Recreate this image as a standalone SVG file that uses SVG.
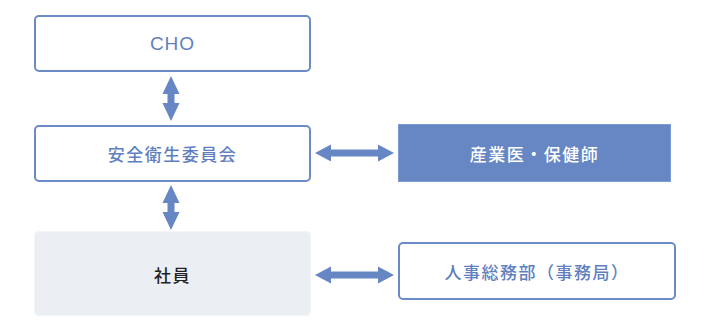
<svg xmlns="http://www.w3.org/2000/svg" width="714" height="330" viewBox="0 0 714 330">
<style>
.box{fill:#ffffff;stroke:#6a8bc8;stroke-width:2}
.soft{fill:#ebeff4;stroke:#f3f5f8;stroke-width:1}
.solid{fill:#6686c4;stroke:#7d9bd2;stroke-width:1}
.arrow{fill:#6686c4}
text{font-family:"Noto Sans CJK JP","Noto Sans",sans-serif;font-size:17px;font-weight:500;letter-spacing:1.5px;text-anchor:middle;dominant-baseline:central}
.latin{font-family:"Liberation Sans","Noto Sans CJK JP",sans-serif;font-size:19px;font-weight:400;letter-spacing:1px}
.blue{fill:#5f7fbf}
.white{fill:#ffffff}
.dark{fill:#222222}
</style>
<rect width="714" height="330" fill="#ffffff"/>
<g id="cho">
<rect class="box" x="35" y="16" width="275" height="55" rx="4"/>
<text class="blue latin" x="172.5" y="43.5">CHO</text>
</g>
<g id="committee">
<rect class="box" x="35" y="126" width="275" height="55" rx="4"/>
<text class="blue" x="172.5" y="153.5">安全衛生委員会</text>
</g>
<g id="employees">
<rect class="soft" x="34.5" y="231.5" width="276" height="84" rx="4"/>
<text class="dark" x="172.5" y="274">社員</text>
</g>
<g id="doctor">
<rect class="solid" x="398.5" y="124.5" width="272" height="57"/>
<text class="white" x="534.5" y="153.5">産業医・保健師</text>
</g>
<g id="hr">
<rect class="box" x="399" y="243" width="276" height="56" rx="4"/>
<text class="blue" x="537" y="271.5">人事総務部（事務局）</text>
</g>
<g id="connectors">
<polygon class="arrow" points="171,76 179.5,94 174.5,94 174.5,103 179.5,103 171,121 162.5,103 167.5,103 167.5,94 162.5,94"/>
<polygon class="arrow" points="171,185 179.5,203 174.5,203 174.5,212 179.5,212 171,230 162.5,212 167.5,212 167.5,203 162.5,203"/>
<polygon class="arrow" points="315,153 331,144.5 331,149.5 378,149.5 378,144.5 394,153 378,161.5 378,156.5 331,156.5 331,161.5"/>
<polygon class="arrow" points="315,275 331,266.5 331,271.5 378,271.5 378,266.5 394,275 378,283.5 378,278.5 331,278.5 331,283.5"/>
</g>
</svg>
